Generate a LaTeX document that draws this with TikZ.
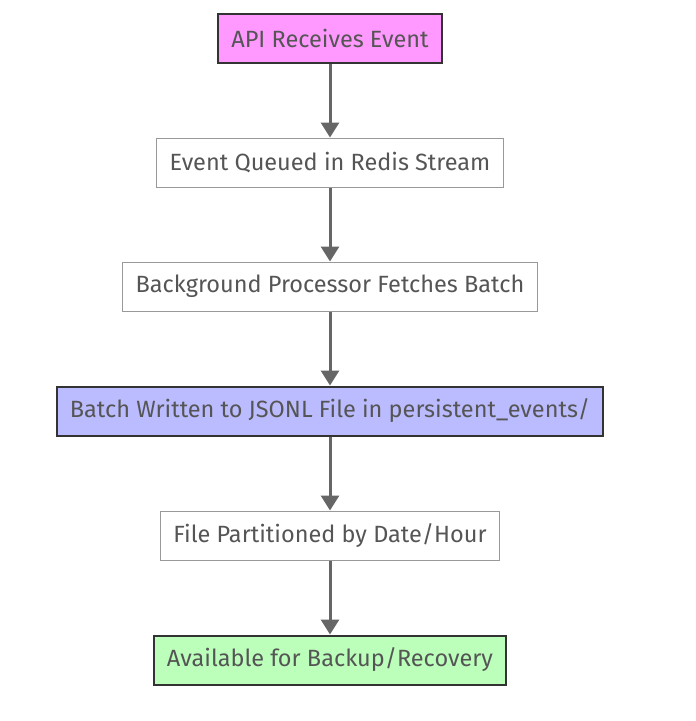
\documentclass[tikz,border=0pt]{standalone}
\usepackage{fontspec}
\setmainfont{Fira Sans}
\usetikzlibrary{arrows.meta,positioning}
\definecolor{pfeil}{RGB}{102,102,102}
\definecolor{schrift}{RGB}{85,85,85}
\definecolor{rahmen}{RGB}{51,51,51}
\definecolor{rahmen-light}{RGB}{153,153,153}
\definecolor{rosa}{RGB}{255,153,255}
\definecolor{lila}{RGB}{187,187,255}
\definecolor{gruen}{RGB}{187,255,187}

\tikzset{
	box/.style={draw=rahmen-light, line width=1pt, fill=white, text=schrift, minimum height=49pt, inner xsep=13pt, font=\fontsize{23.5}{28}\selectfont},
	hot/.style={box, draw=rahmen, line width=2pt},
	flow/.style={pfeil, line width=3pt, -{Triangle[length=15pt, width=18pt]}}
}

\begin{document}
\begin{tikzpicture}[x=1pt, y=-1pt, node distance=74pt]

	\useasboundingbox (0,0) rectangle (696,721);

	% the path of an event
	\node[hot, fill=rosa] (api) at (330,38) {API Receives Event};
	\node[box, below=of api] (queue) {Event Queued in Redis Stream};
	\node[box, below=of queue] (fetch) {Background Processor Fetches Batch};
	\node[hot, fill=lila, below=of fetch] (jsonl) {Batch Written to JSONL File in persistent\_events/};
	\node[box, below=of jsonl] (part) {File Partitioned by Date/Hour};
	\node[hot, fill=gruen, below=of part] (backup) {Available for Backup/Recovery};

	\foreach \a/\b in {api/queue, queue/fetch, fetch/jsonl, jsonl/part, part/backup}
		\draw[flow] (\a) -- (\b);

\end{tikzpicture}
\end{document}
